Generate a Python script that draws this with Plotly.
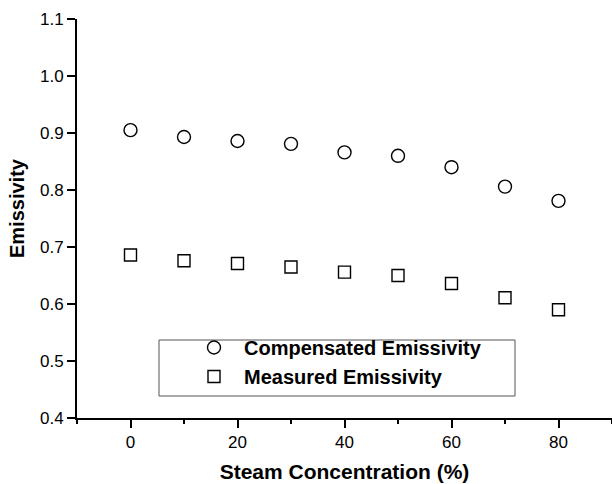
import plotly.graph_objects as go

steam = [0, 10, 20, 30, 40, 50, 60, 70, 80]
compensated = [0.905, 0.893, 0.886, 0.881, 0.866, 0.860, 0.840, 0.806, 0.781]
measured = [0.686, 0.676, 0.671, 0.665, 0.656, 0.650, 0.636, 0.611, 0.590]

W, H = 612, 484
ML, MR, MT, MB = 77, 0, 19, 66

fig = go.Figure()
fig.add_trace(go.Scatter(
    x=steam, y=compensated, mode="markers", name="Compensated Emissivity",
    marker=dict(symbol="circle-open", size=13, color="black", line=dict(width=1.4, color="black")),
))
fig.add_trace(go.Scatter(
    x=steam, y=measured, mode="markers", name="Measured Emissivity",
    marker=dict(symbol="square-open", size=12, color="black", line=dict(width=1.4, color="black")),
))

pw = W - ML - MR
ph = H - MT - MB
def px_to_paper_x(px):
    return (px - ML) / pw
def px_to_paper_y(py):
    return (H - MB - py) / ph

# legend frame
fig.add_shape(type="rect", xref="paper", yref="paper",
              x0=px_to_paper_x(159), x1=px_to_paper_x(515),
              y0=px_to_paper_y(396), y1=px_to_paper_y(340),
              line=dict(color="#555555", width=1), fillcolor="white", layer="below")

font_family = "Liberation Sans, Arial, sans-serif"

# y-axis title as annotation for exact placement
fig.add_annotation(text="<b>Emissivity</b>", xref="paper", yref="paper",
                   x=px_to_paper_x(17), y=px_to_paper_y(208), xanchor="center", yanchor="middle",
                   textangle=-90, showarrow=False, font=dict(size=20, family=font_family, color="black"))

fig.update_layout(
    width=W, height=H,
    margin=dict(l=ML, r=MR, t=MT, b=MB, autoexpand=False),
    paper_bgcolor="white", plot_bgcolor="white",
    font=dict(family=font_family, color="black", size=17),
    showlegend=True,
    legend=dict(
        x=px_to_paper_x(184), y=px_to_paper_y(328), xanchor="left", yanchor="top",
        bgcolor="rgba(0,0,0,0)", borderwidth=0,
        font=dict(family=font_family, size=20, color="black", weight="bold"),
        itemwidth=50, tracegroupgap=0,
    ),
    xaxis=dict(
        range=[-10, 90], tick0=0, dtick=20, showgrid=False, zeroline=False,
        showline=True, linecolor="black", linewidth=2,
        ticks="outside", ticklen=8, tickwidth=1.5, tickcolor="black",
        minor=dict(dtick=10, tick0=0, ticks="outside", ticklen=4, tickwidth=1.5, tickcolor="black", showgrid=False),
        tickfont=dict(size=17, family=font_family),
        title=dict(text="<b>Steam Concentration (%)</b>", font=dict(size=21, family=font_family), standoff=13),
        automargin=False,
    ),
    yaxis=dict(
        range=[0.4, 1.1], tick0=0.4, dtick=0.1, tickformat=".1f", showgrid=False, zeroline=False,
        showline=True, linecolor="black", linewidth=2,
        ticks="outside", ticklen=8, tickwidth=1.5, tickcolor="black",
        tickfont=dict(size=17, family=font_family),
        automargin=False,
    ),
)

fig.write_html("out.html")
